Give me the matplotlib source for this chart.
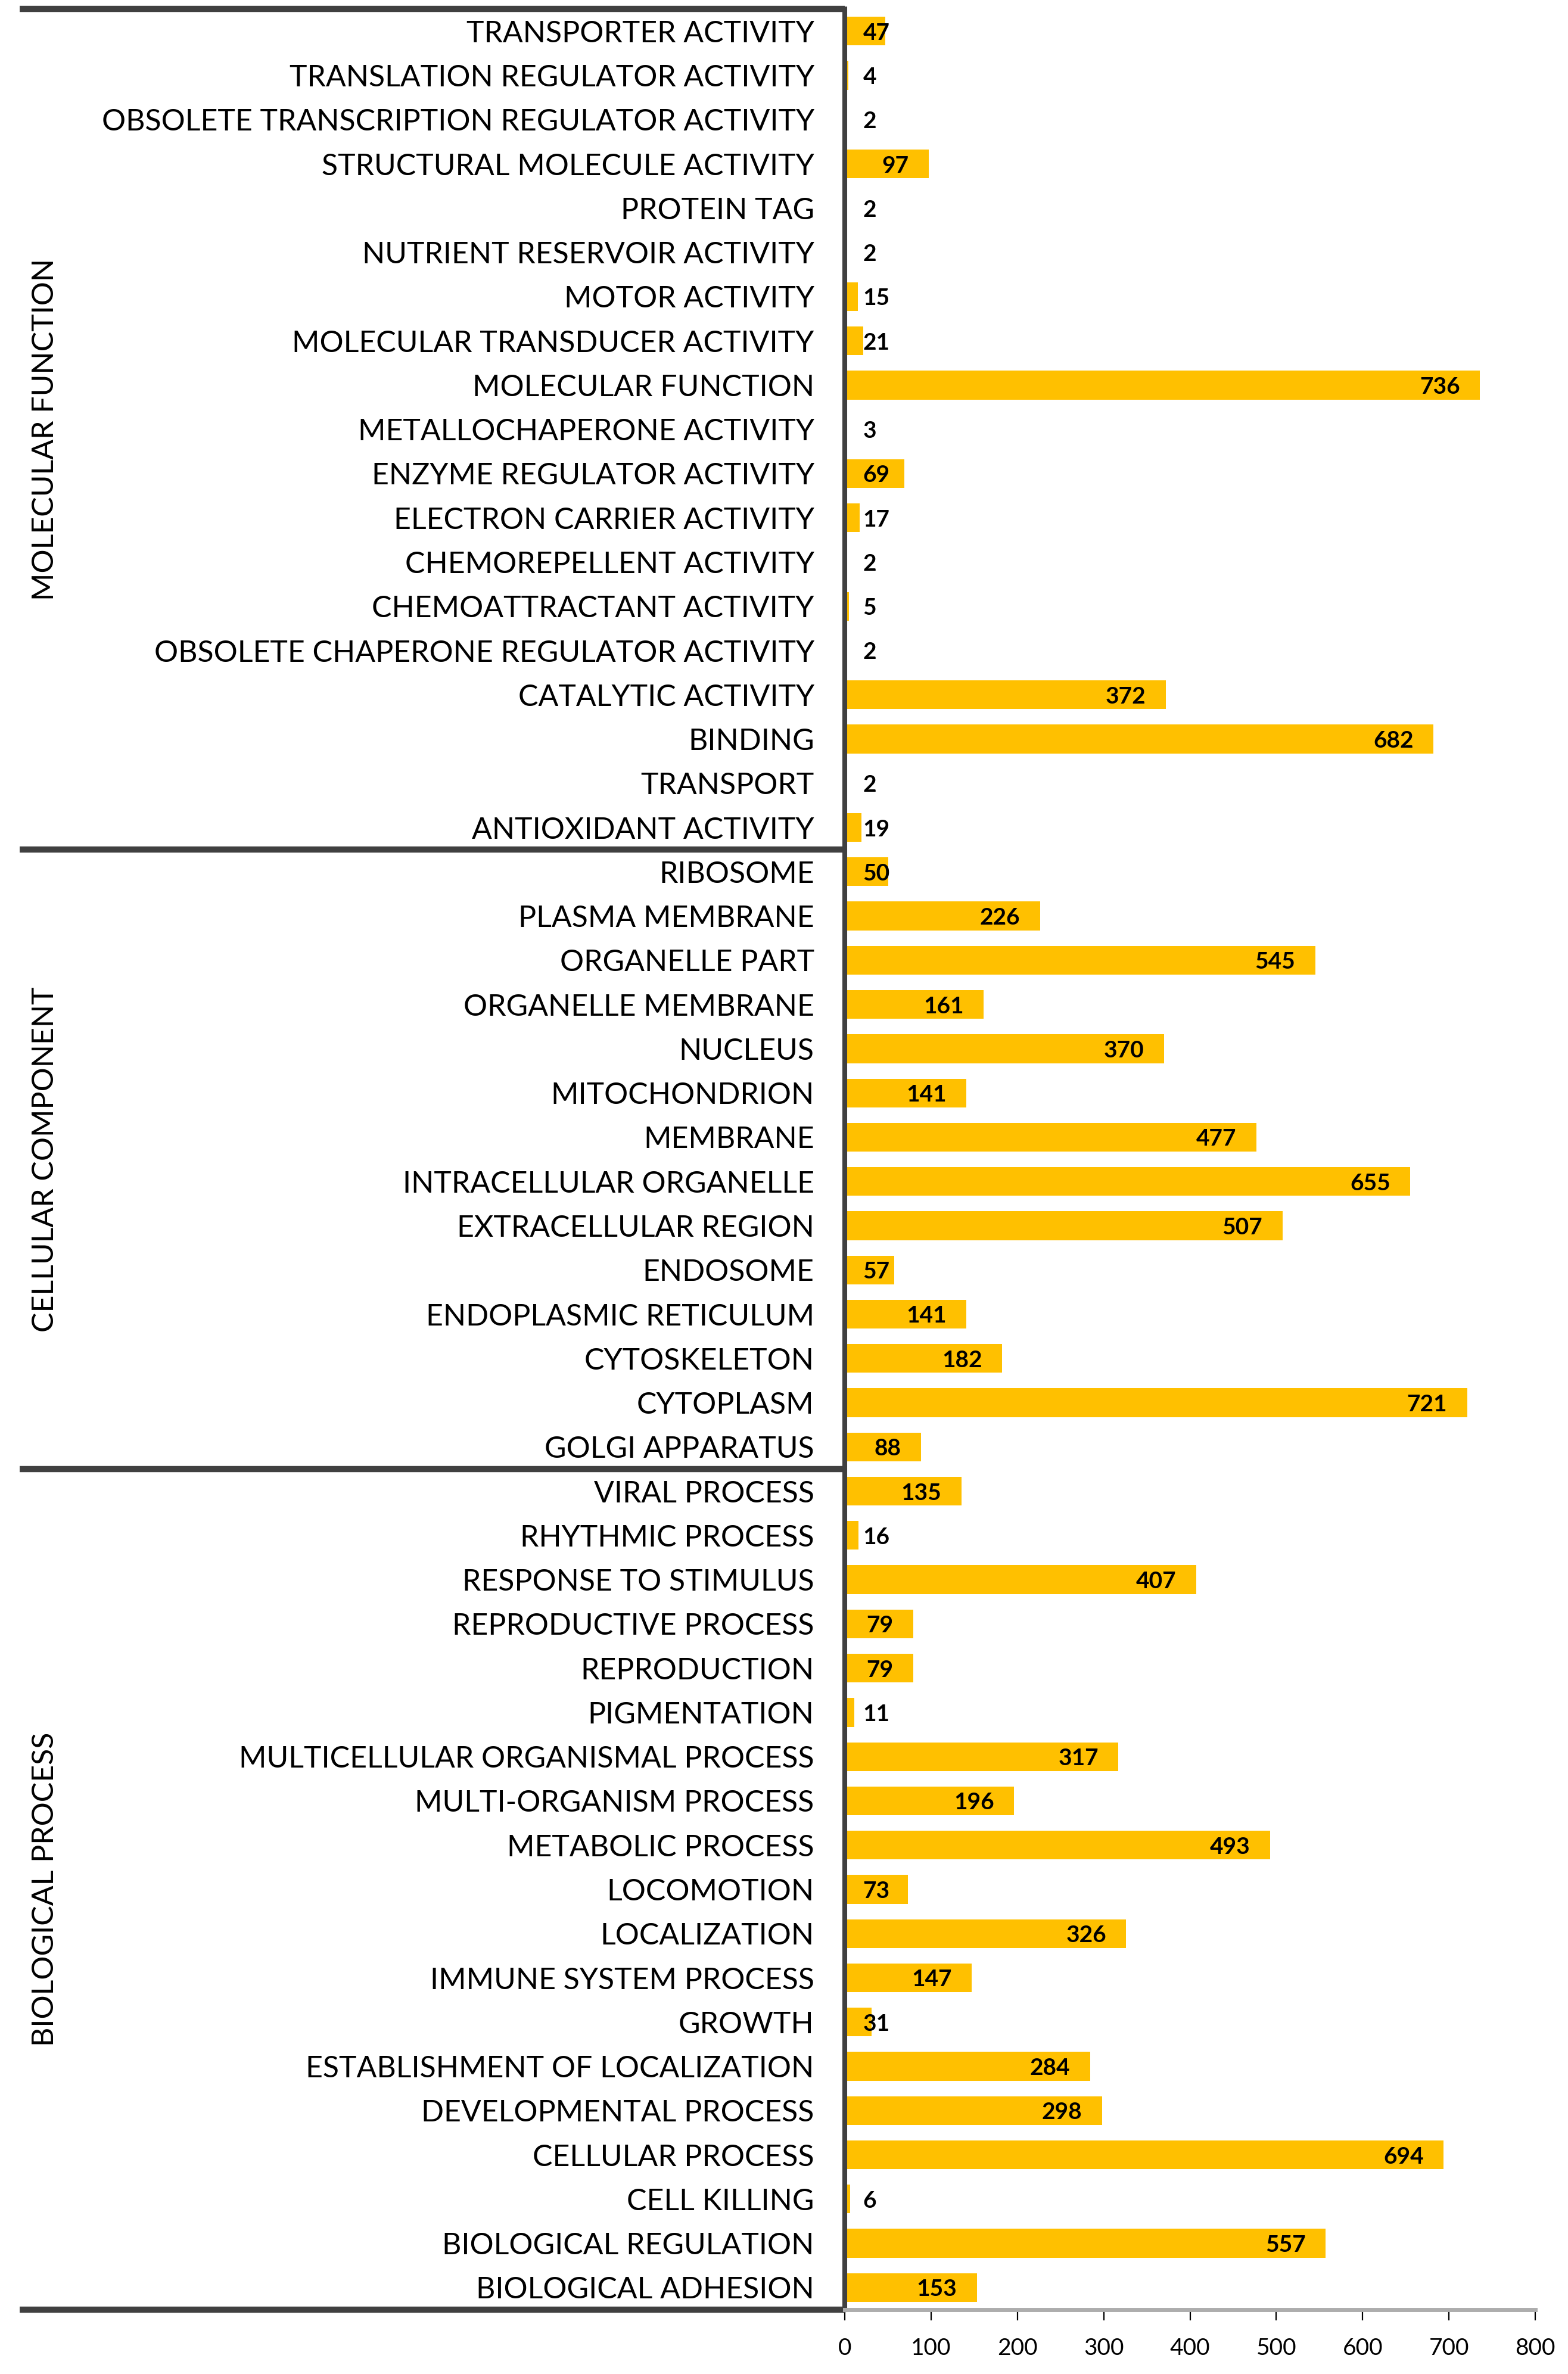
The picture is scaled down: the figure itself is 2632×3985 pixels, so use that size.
import numpy as np
import matplotlib
matplotlib.use("Agg")
import matplotlib.pyplot as plt
import matplotlib.transforms as mtransforms

plt.rcParams['font.family'] = ['Lato', 'DejaVu Sans']

# categorias por grupo (de arriba hacia abajo)
mf_terms = ["TRANSPORTER ACTIVITY", "TRANSLATION REGULATOR ACTIVITY",
            "OBSOLETE TRANSCRIPTION REGULATOR ACTIVITY", "STRUCTURAL MOLECULE ACTIVITY",
            "PROTEIN TAG", "NUTRIENT RESERVOIR ACTIVITY", "MOTOR ACTIVITY",
            "MOLECULAR TRANSDUCER ACTIVITY", "MOLECULAR FUNCTION", "METALLOCHAPERONE ACTIVITY",
            "ENZYME REGULATOR ACTIVITY", "ELECTRON CARRIER ACTIVITY", "CHEMOREPELLENT ACTIVITY",
            "CHEMOATTRACTANT ACTIVITY", "OBSOLETE CHAPERONE REGULATOR ACTIVITY",
            "CATALYTIC ACTIVITY", "BINDING", "TRANSPORT", "ANTIOXIDANT ACTIVITY"]
mf_counts = [47, 4, 2, 97, 2, 2, 15, 21, 736, 3, 69, 17, 2, 5, 2, 372, 682, 2, 19]

cc_terms = ["RIBOSOME", "PLASMA MEMBRANE", "ORGANELLE PART", "ORGANELLE MEMBRANE",
            "NUCLEUS", "MITOCHONDRION", "MEMBRANE", "INTRACELLULAR ORGANELLE",
            "EXTRACELLULAR REGION", "ENDOSOME", "ENDOPLASMIC RETICULUM", "CYTOSKELETON",
            "CYTOPLASM", "GOLGI APPARATUS"]
cc_counts = [50, 226, 545, 161, 370, 141, 477, 655, 507, 57, 141, 182, 721, 88]

bp_terms = ["VIRAL PROCESS", "RHYTHMIC PROCESS", "RESPONSE TO STIMULUS",
            "REPRODUCTIVE PROCESS", "REPRODUCTION", "PIGMENTATION",
            "MULTICELLULAR ORGANISMAL PROCESS", "MULTI-ORGANISM PROCESS", "METABOLIC PROCESS",
            "LOCOMOTION", "LOCALIZATION", "IMMUNE SYSTEM PROCESS", "GROWTH",
            "ESTABLISHMENT OF LOCALIZATION", "DEVELOPMENTAL PROCESS", "CELLULAR PROCESS",
            "CELL KILLING", "BIOLOGICAL REGULATION", "BIOLOGICAL ADHESION"]
bp_counts = [135, 16, 407, 79, 79, 11, 317, 196, 493, 73, 326, 147, 31, 284, 298, 694, 6, 557, 153]

groups = ["MOLECULAR FUNCTION", "CELLULAR COMPONENT", "BIOLOGICAL PROCESS"]
x_ticks = [0, 100, 200, 300, 400, 500, 600, 700, 800]

terms = mf_terms + cc_terms + bp_terms
counts = mf_counts + cc_counts + bp_counts
sizes = [len(mf_terms), len(cc_terms), len(bp_terms)]
y = np.arange(len(terms))

fig = plt.figure(figsize=(26.32, 39.85), dpi=100)
ax = fig.add_axes([0.5388, 0.0271, 0.9791 - 0.5388, 0.9962 - 0.0271])

ax.barh(y, counts, height=0.65, color="#FFC000")
ax.set_xlim(0, 800)
ax.set_ylim(len(terms) - 0.5, -0.5)
ax.set_xticks(x_ticks)
ax.set_yticks(y)
ax.set_yticklabels(terms)
ax.tick_params(axis="y", length=0, pad=37, labelsize=36)
ax.tick_params(axis="x", length=13, width=1.6, pad=21, labelsize=28, color="black")

for s in ["top", "right"]:
    ax.spines[s].set_visible(False)
ax.spines["left"].set_color("#404040")
ax.spines["left"].set_linewidth(5.8)
ax.spines["bottom"].set_color("#ADADAD")
ax.spines["bottom"].set_linewidth(5.0)

# lineas de la tabla de grupos a la izquierda
trans = mtransforms.blended_transform_factory(ax.transAxes, ax.transData)
bounds = np.concatenate([[0], np.cumsum(sizes)]) - 0.5
for b in bounds:
    ax.plot([-1.195, 0], [b, b], color="#404040", lw=7.5, transform=trans,
            clip_on=False, solid_capstyle="butt")

# nombres de grupo en vertical
ftrans = mtransforms.blended_transform_factory(fig.transFigure, ax.transData)
for i, g in enumerate(groups):
    mid = (bounds[i] + bounds[i + 1]) / 2
    ax.text(0.0289, mid, g, rotation=90, ha="center", va="center",
            fontsize=36, transform=ftrans)

# etiquetas de valor (dentro del extremo, o fuera si la barra es corta)
labels = []
for yi, v in zip(y, counts):
    t = ax.text(v - 23, yi + 0.04, str(v), ha="right", va="center",
                fontsize=28, fontweight="bold")
    labels.append(t)

fig.canvas.draw()
renderer = fig.canvas.get_renderer()
inv = ax.transData.inverted()
for t in labels:
    bb = t.get_window_extent(renderer)
    left = inv.transform((bb.x0, bb.y0))[0]
    if left < 21:
        t.set_x(21)
        t.set_ha("left")

fig.savefig("out.png", dpi=100, facecolor="white")
